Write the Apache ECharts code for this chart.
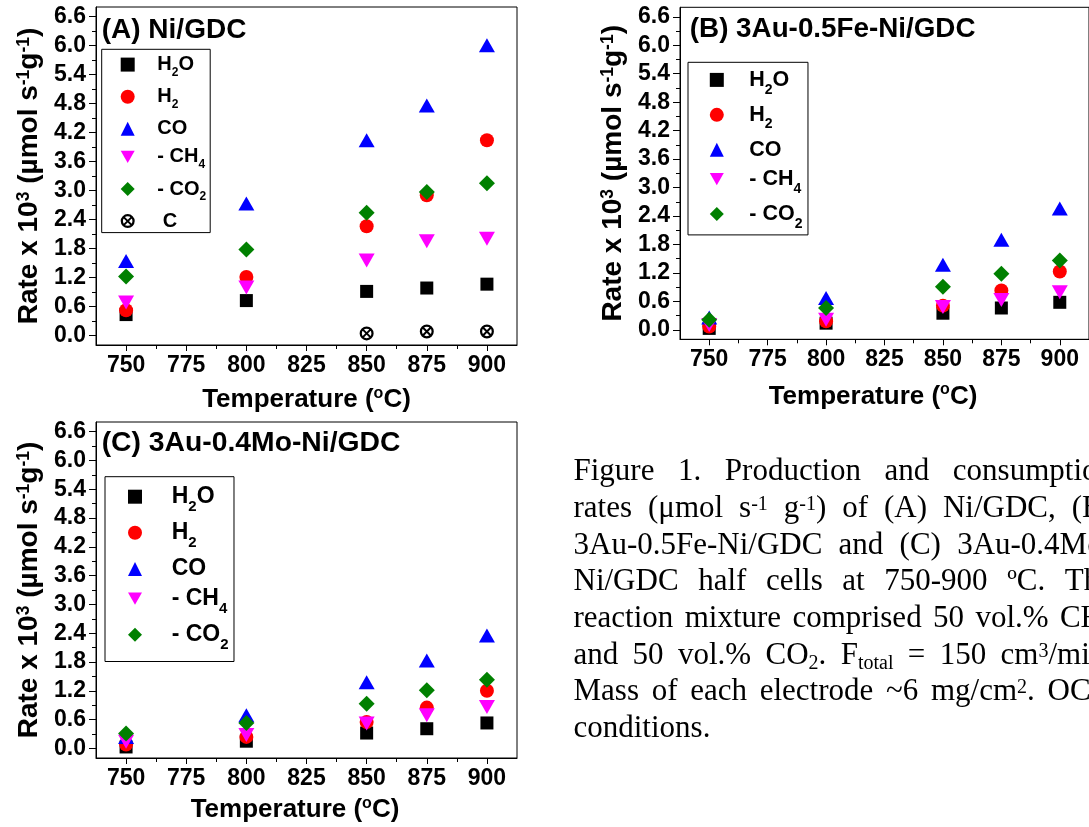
<!DOCTYPE html>
<html>
<head>
<meta charset="utf-8">
<script src="https://cdn.jsdelivr.net/npm/echarts@6/dist/echarts.min.js"></script>
<style>
  html, body { margin: 0; padding: 0; background: #fff; }
  #chart { width: 1089px; height: 827px; }
</style>
</head>
<body>
<div id="chart"></div>
<script>
// temperatures (°C) and axis ticks
const temps = [750, 800, 850, 875, 900];
const xTicks = [750, 775, 800, 825, 850, 875, 900];
const xMinor = [762.5, 787.5, 812.5, 837.5, 862.5, 887.5];
const yTicks = [0, 0.6, 1.2, 1.8, 2.4, 3.0, 3.6, 4.2, 4.8, 5.4, 6.0, 6.6];
const yMinor = [0.3, 0.9, 1.5, 2.1, 2.7, 3.3, 3.9, 4.5, 5.1, 5.7, 6.3];
const names = ['H2O', 'H2', 'CO', '- CH4', '- CO2', ' C'];

// (A) Ni/GDC
const aH2O = [0.43, 0.72, 0.91, 0.98, 1.06];
const aH2  = [0.52, 1.21, 2.26, 2.90, 4.04];
const aCO  = [1.54, 2.73, 4.04, 4.76, 6.01];
const aCH4 = [0.68, 0.99, 1.55, 1.95, 2.00];
const aCO2 = [1.22, 1.78, 2.54, 2.97, 3.15];
const aC   = [null, null, 0.04, 0.08, 0.08];
// (B) 3Au-0.5Fe-Ni/GDC
const bH2O = [0.03, 0.14, 0.35, 0.46, 0.58];
const bH2  = [0.07, 0.18, 0.51, 0.83, 1.23];
const bCO  = [0.26, 0.67, 1.37, 1.90, 2.56];
const bCH4 = [0.10, 0.21, 0.48, 0.63, 0.79];
const bCO2 = [0.21, 0.46, 0.91, 1.18, 1.46];
// (C) 3Au-0.4Mo-Ni/GDC
const cH2O = [0.03, 0.15, 0.32, 0.41, 0.53];
const cH2  = [0.08, 0.24, 0.55, 0.85, 1.20];
const cCO  = [0.24, 0.69, 1.38, 1.83, 2.35];
const cCH4 = [0.14, 0.28, 0.52, 0.69, 0.86];
const cCO2 = [0.31, 0.53, 0.93, 1.21, 1.43];

const captionLines = [
  'Figure 1. Production and consumption',
  'rates (μmol s^{-1} g^{-1}) of (A) Ni/GDC, (B)',
  '3Au-0.5Fe-Ni/GDC and (C) 3Au-0.4Mo-',
  'Ni/GDC half cells at 750-900 ºC. The',
  'reaction mixture comprised 50 vol.% CH_{4}',
  'and 50 vol.% CO_{2}. F_{total} = 150 cm^{3}/min.',
  'Mass of each electrode ~6 mg/cm^{2}. OCV',
  'conditions.'
];

const FONT = '"Liberation Sans", Arial, sans-serif';
const SERIF = '"Liberation Serif", "Times New Roman", serif';

const ring = 'path://M1,12A11,11 0 1,1 23,12A11,11 0 1,1 1,12Z M4.5,12A7.5,7.5 0 1,0 19.5,12A7.5,7.5 0 1,0 4.5,12Z M5.4,7.6L7.6,5.4L18.6,16.4L16.4,18.6Z M5.4,16.4L16.4,5.4L18.6,7.6L7.6,18.6Z';
const markers = {
  'H2O':   { symbol: 'rect', size: 13, color: '#000000' },
  'H2':    { symbol: 'circle', size: 14, color: '#ff0000' },
  'CO':    { symbol: 'triangle', size: [16, 14], color: '#0000ff' },
  '- CH4': { symbol: 'path://M0,0L16,0L8,14Z', size: [16, 14], color: '#ff00ff' },
  '- CO2': { symbol: 'diamond', size: [16, 16], color: '#008000' },
  ' C':    { symbol: ring, size: 14, color: '#000000' }
};
const legendText = {
  'H2O': '{n|H}{sub|2}{n|O}', 'H2': '{n|H}{sub|2}', 'CO': '{n|CO}',
  '- CH4': '{n|- CH}{sub|4}', '- CO2': '{n|- CO}{sub|2}', ' C': '{n| C}'
};

const panels = [
  { data: [aH2O, aH2, aCO, aCH4, aCO2, aC],
    grid: { left: 96, top: 7, width: 421, height: 338 },
    title: '(A) Ni/GDC', titleLeft: 101.7, titleTop: 14, titleSize: 28,
    leg: { left: 101.7, top: 49.3, fs: 20, sub: 12, lh: 28, gap: 8.1, pad: [5.3, 4, 1.5, 19], textPad: 17.6 },
    xGap: 40.7, xShift: 0, yGap: 52 },
  { data: [bH2O, bH2, bCO, bCH4, bCO2],
    grid: { left: 680, top: 7.3, width: 415, height: 332 },
    title: '(B) 3Au-0.5Fe-Ni/GDC', titleLeft: 689.8, titleTop: 13.3, titleSize: 27.8,
    leg: { left: 688, top: 62.3, fs: 21.5, sub: 14, lh: 33.5, gap: 7.2, pad: [6.6, 5.5, 4.2, 21.8], textPad: 20.5 },
    xGap: 42.7, xShift: 23, yGap: 52 },
  { data: [cH2O, cH2, cCO, cCH4, cCO2],
    grid: { left: 96, top: 422, width: 421, height: 336 },
    title: '(C) 3Au-0.4Mo-Ni/GDC', titleLeft: 101.7, titleTop: 427.3, titleSize: 28.3,
    leg: { left: 105, top: 476.7, fs: 23, sub: 15, lh: 35.6, gap: 6.8, pad: [8.5, 5.4, 8.9, 23], textPad: 24.7 },
    xGap: 37.2, xShift: 23, yGap: 52 }
];

const labelStyle = { fontSize: 23, fontWeight: 'bold', fontFamily: FONT, color: '#000' };
const black = { color: '#000', width: 1 };

const grids = [], xAxes = [], yAxes = [], series = [], legends = [], titles = [];
panels.forEach((p, i) => {
  grids.push(Object.assign({ show: true, borderColor: '#000', borderWidth: 1, backgroundColor: 'transparent' }, p.grid));
  titles.push({ text: p.title, left: p.titleLeft, top: p.titleTop, padding: 0,
    textStyle: { fontSize: p.titleSize, fontWeight: 'bold', fontFamily: FONT, color: '#000', lineHeight: 32 } });

  xAxes.push({
    type: 'value', gridIndex: i, min: 737.5, max: 912.5, position: 'bottom',
    axisLine: { onZero: false, lineStyle: black },
    axisTick: { customValues: xTicks, length: 6, lineStyle: black },
    axisLabel: Object.assign({ customValues: xTicks, margin: 9 }, labelStyle),
    splitLine: { show: false },
    name: '{b|Temperature (}{sup|o}{b|C)}', nameLocation: 'middle', nameGap: p.xGap,
    nameTextStyle: { padding: [0, p.xShift, 0, 0], rich: {
      b: { fontSize: 26, fontWeight: 'bold', fontFamily: FONT, color: '#000', lineHeight: 29 },
      sup: { fontSize: 16, fontWeight: 'bold', fontFamily: FONT, color: '#000', lineHeight: 29, verticalAlign: 'top' } } }
  });
  xAxes.push({
    type: 'value', gridIndex: i, min: 737.5, max: 912.5, position: 'bottom',
    axisLine: { show: false, onZero: false },
    axisTick: { customValues: xMinor, length: 4, lineStyle: black },
    axisLabel: { show: false }, splitLine: { show: false }
  });
  yAxes.push({
    type: 'value', gridIndex: i, min: -0.2, max: 6.8, position: 'left',
    axisLine: { show: true, onZero: false, lineStyle: black },
    axisTick: { show: true, customValues: yTicks, length: 7, lineStyle: black },
    axisLabel: Object.assign({ customValues: yTicks, margin: 10, formatter: v => v.toFixed(1) }, labelStyle),
    splitLine: { show: false },
    name: '{b|Rate x 10}{sup|3}{b| (µmol s}{sup|-1}{b|g}{sup|-1}{b|)}',
    nameLocation: 'middle', nameRotate: 90, nameGap: p.yGap,
    nameTextStyle: { rich: {
      b: { fontSize: 28, fontWeight: 'bold', fontFamily: FONT, color: '#000', lineHeight: 29 },
      sup: { fontSize: 17.5, fontWeight: 'bold', fontFamily: FONT, color: '#000', lineHeight: 29, verticalAlign: 'top' } } }
  });
  yAxes.push({
    type: 'value', gridIndex: i, min: -0.2, max: 6.8, position: 'left',
    axisLine: { show: false, onZero: false },
    axisTick: { show: true, customValues: yMinor, length: 4, lineStyle: black },
    axisLabel: { show: false }, splitLine: { show: false }
  });

  const used = [];
  p.data.forEach((vals, k) => {
    const name = names[k];
    const m = markers[name];
    used.push(name);
    series.push({
      type: 'scatter', name: name, xAxisIndex: 2 * i, yAxisIndex: 2 * i,
      symbol: m.symbol, symbolSize: m.size,
      itemStyle: { color: m.color, opacity: 1 },
      data: temps.map((t, j) => [t, vals[j]]).filter(d => d[1] != null)
    });
  });

  const L = p.leg;
  legends.push({
    orient: 'vertical', left: L.left, top: L.top, padding: L.pad, itemGap: L.gap,
    itemWidth: 14, itemHeight: 14, selectedMode: false,
    borderColor: '#000', borderWidth: 1, data: used,
    formatter: n => legendText[n],
    textStyle: { padding: [0, 0, 0, L.textPad], rich: {
      n: { fontSize: L.fs, fontWeight: 'bold', fontFamily: FONT, color: '#000', lineHeight: L.lh },
      sub: { fontSize: L.sub, fontWeight: 'bold', fontFamily: FONT, color: '#000', lineHeight: L.lh, verticalAlign: 'bottom' } } }
  });
});

// caption, justified like the source text block
const capLeft = 573.5, capRight = 1113, capTop = 472, capStep = 36.7;
const capRich = {
  n: { fontSize: 31, fontFamily: SERIF, fill: '#000', lineHeight: 20 },
  sup: { fontSize: 20, fontFamily: SERIF, fill: '#000', lineHeight: 28.5, verticalAlign: 'top' },
  sub: { fontSize: 20, fontFamily: SERIF, fill: '#000', lineHeight: 36.7, verticalAlign: 'bottom' }
};
const ctx = document.createElement('canvas').getContext('2d');
function parseWord(w) {
  const out = [];
  const re = /([\^_])\{([^}]*)\}/g;
  let last = 0, m;
  while ((m = re.exec(w))) {
    if (m.index > last) out.push({ t: w.slice(last, m.index), s: 'n' });
    out.push({ t: m[2], s: m[1] === '^' ? 'sup' : 'sub' });
    last = re.lastIndex;
  }
  if (last < w.length) out.push({ t: w.slice(last), s: 'n' });
  return out;
}
function segWidth(segs) {
  return segs.reduce((w, g) => {
    ctx.font = (g.s === 'n' ? 31 : 20) + 'px "Liberation Serif"';
    return w + ctx.measureText(g.t).width;
  }, 0);
}
ctx.font = '31px "Liberation Serif"';
const spaceW = ctx.measureText(' ').width;
const graphics = [];
captionLines.forEach((line, li) => {
  const words = line.split(' ').map(parseWord);
  const widths = words.map(segWidth);
  const total = widths.reduce((a, b) => a + b, 0);
  const gap = li === captionLines.length - 1 ? spaceW : (capRight - capLeft - total) / (words.length - 1);
  let x = capLeft;
  words.forEach((segs, wi) => {
    graphics.push({
      type: 'text', x: x, y: capTop + li * capStep, silent: true,
      style: { text: segs.map(s => '{' + s.s + '|' + s.t + '}').join(''), rich: capRich,
        fill: '#000', align: 'left', verticalAlign: 'middle' }
    });
    x += widths[wi] + gap;
  });
});

const chart = echarts.init(document.getElementById('chart'));
chart.setOption({
  animation: false,
  backgroundColor: '#ffffff',
  title: titles,
  grid: grids,
  xAxis: xAxes,
  yAxis: yAxes,
  legend: legends,
  series: series,
  graphic: graphics
});
</script>
</body>
</html>
